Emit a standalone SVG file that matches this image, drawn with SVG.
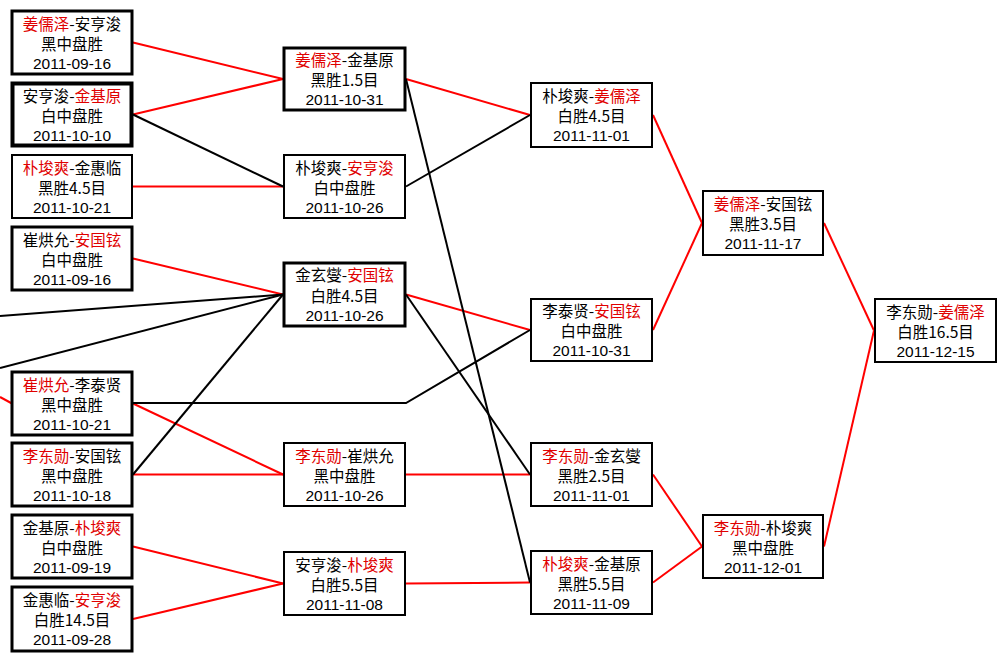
<svg xmlns="http://www.w3.org/2000/svg" width="1007" height="661" viewBox="0 0 1007 661">
<style>
.b{fill:#fff;stroke:#000}
.b2{stroke-width:2}
.b3{stroke-width:3}
.b4{stroke-width:4}
text{font-family:"Noto Sans CJK SC","Noto Sans",sans-serif;font-size:15.5px;fill:#000;text-anchor:middle}
.d{font-family:"Liberation Sans",Arial,sans-serif;font-size:15.5px}
.r{fill:#e00000}
.cr{stroke:#f00;stroke-width:2;fill:none}
.ck{stroke:#000;stroke-width:2;fill:none}
</style>
<rect width="1007" height="661" fill="#fff"/>
<g id="connectors">
<line class="cr" x1="133" y1="42.5" x2="283" y2="79"/>
<line class="cr" x1="133" y1="114.5" x2="283" y2="79"/>
<line class="cr" x1="133" y1="186.5" x2="283" y2="186.5"/>
<line class="cr" x1="133" y1="258.5" x2="283" y2="294.5"/>
<line class="cr" x1="133" y1="403.5" x2="283" y2="474.5"/>
<line class="cr" x1="133" y1="474.5" x2="283" y2="474.5"/>
<line class="cr" x1="133" y1="546.5" x2="283" y2="583.5"/>
<line class="cr" x1="133" y1="619" x2="283" y2="583.5"/>
<line class="cr" x1="0" y1="397" x2="12" y2="403.5"/>
<line class="cr" x1="406" y1="79" x2="530" y2="115"/>
<line class="cr" x1="406" y1="294.5" x2="530" y2="330"/>
<line class="cr" x1="406" y1="474.5" x2="530" y2="474.5"/>
<line class="cr" x1="406" y1="583.5" x2="530" y2="582.5"/>
<line class="cr" x1="653" y1="115" x2="702" y2="223"/>
<line class="cr" x1="653" y1="330" x2="702" y2="223"/>
<line class="cr" x1="653" y1="474.5" x2="702" y2="546.5"/>
<line class="cr" x1="653" y1="582.5" x2="702" y2="546.5"/>
<line class="cr" x1="824" y1="223" x2="874" y2="330.5"/>
<line class="cr" x1="824" y1="546.5" x2="874" y2="330.5"/>
<line class="ck" x1="133" y1="114.5" x2="283" y2="186.5"/>
<line class="ck" x1="406" y1="186.5" x2="530" y2="115"/>
<line class="ck" x1="406" y1="79" x2="530" y2="582.5"/>
<line class="ck" x1="406" y1="294.5" x2="530" y2="474.5"/>
<line class="ck" x1="133" y1="474.5" x2="283" y2="294.5"/>
<line class="ck" x1="0" y1="316" x2="283" y2="294.5"/>
<line class="ck" x1="0" y1="368" x2="283" y2="294.5"/>
<polyline class="ck" points="133,403 406,403 530,330"/>
</g>
<g id="n1"><rect class="b b3" x="12" y="11" width="120" height="63"/>
<text x="72" y="29.5"><tspan class="r">姜儒泽</tspan>-安亨浚<tspan x="72" dy="20">黑中盘胜</tspan><tspan class="d" x="72" dy="19">2011-09-16</tspan></text></g>
<g id="n2"><rect class="b b4" x="12.5" y="83.5" width="119" height="62"/>
<text x="72" y="101.5">安亨浚-<tspan class="r">金基原</tspan><tspan x="72" dy="20">白中盘胜</tspan><tspan class="d" x="72" dy="19">2011-10-10</tspan></text></g>
<g id="n3"><rect class="b b2" x="12" y="155" width="120" height="63"/>
<text x="72" y="173.5"><tspan class="r">朴埈爽</tspan>-金惠临<tspan x="72" dy="20">黑胜4.5目</tspan><tspan class="d" x="72" dy="19">2011-10-21</tspan></text></g>
<g id="n4"><rect class="b b3" x="12" y="227" width="120" height="63"/>
<text x="72" y="245.5">崔烘允-<tspan class="r">安国铉</tspan><tspan x="72" dy="20">白中盘胜</tspan><tspan class="d" x="72" dy="19">2011-09-16</tspan></text></g>
<g id="n5"><rect class="b b3" x="12" y="372" width="120" height="63"/>
<text x="72" y="390.5"><tspan class="r">崔烘允</tspan>-李泰贤<tspan x="72" dy="20">黑中盘胜</tspan><tspan class="d" x="72" dy="19">2011-10-21</tspan></text></g>
<g id="n6"><rect class="b b3" x="12" y="443" width="120" height="63"/>
<text x="72" y="461.5"><tspan class="r">李东勋</tspan>-安国铉<tspan x="72" dy="20">黑中盘胜</tspan><tspan class="d" x="72" dy="19">2011-10-18</tspan></text></g>
<g id="n7"><rect class="b b3" x="12" y="515" width="120" height="63"/>
<text x="72" y="533.5">金基原-<tspan class="r">朴埈爽</tspan><tspan x="72" dy="20">白中盘胜</tspan><tspan class="d" x="72" dy="19">2011-09-19</tspan></text></g>
<g id="n8"><rect class="b b3" x="12" y="587" width="120" height="64"/>
<text x="72" y="605.5">金惠临-<tspan class="r">安亨浚</tspan><tspan x="72" dy="20">白胜14.5目</tspan><tspan class="d" x="72" dy="19">2011-09-28</tspan></text></g>
<g id="nA"><rect class="b b3" x="284" y="48" width="121" height="62"/>
<text x="344.5" y="65.5"><tspan class="r">姜儒泽</tspan>-金基原<tspan x="344.5" dy="20">黑胜1.5目</tspan><tspan class="d" x="344.5" dy="19">2011-10-31</tspan></text></g>
<g id="nB"><rect class="b b2" x="284" y="155" width="121" height="63"/>
<text x="344.5" y="173.5">朴埈爽-<tspan class="r">安亨浚</tspan><tspan x="344.5" dy="20">白中盘胜</tspan><tspan class="d" x="344.5" dy="19">2011-10-26</tspan></text></g>
<g id="nC"><rect class="b b3" x="284" y="263" width="121" height="63"/>
<text x="344.5" y="281">金玄燮-<tspan class="r">安国铉</tspan><tspan x="344.5" dy="20.5">白胜4.5目</tspan><tspan class="d" x="344.5" dy="19">2011-10-26</tspan></text></g>
<g id="nD"><rect class="b b2" x="284" y="443" width="121" height="63"/>
<text x="344.5" y="461.5"><tspan class="r">李东勋</tspan>-崔烘允<tspan x="344.5" dy="20">黑中盘胜</tspan><tspan class="d" x="344.5" dy="19">2011-10-26</tspan></text></g>
<g id="nE"><rect class="b b2" x="284" y="552" width="121" height="63"/>
<text x="344.5" y="570.5">安亨浚-<tspan class="r">朴埈爽</tspan><tspan x="344.5" dy="20">白胜5.5目</tspan><tspan class="d" x="344.5" dy="19">2011-11-08</tspan></text></g>
<g id="nF"><rect class="b b2" x="531" y="83" width="121" height="64"/>
<text x="591.5" y="101.5">朴埈爽-<tspan class="r">姜儒泽</tspan><tspan x="591.5" dy="20">白胜4.5目</tspan><tspan class="d" x="591.5" dy="19">2011-11-01</tspan></text></g>
<g id="nG"><rect class="b b2" x="531" y="299" width="121" height="62"/>
<text x="591.5" y="316.5">李泰贤-<tspan class="r">安国铉</tspan><tspan x="591.5" dy="20">白中盘胜</tspan><tspan class="d" x="591.5" dy="19">2011-10-31</tspan></text></g>
<g id="nH"><rect class="b b2" x="531" y="443" width="121" height="63"/>
<text x="591.5" y="461.5"><tspan class="r">李东勋</tspan>-金玄燮<tspan x="591.5" dy="20">黑胜2.5目</tspan><tspan class="d" x="591.5" dy="19">2011-11-01</tspan></text></g>
<g id="nI"><rect class="b b2" x="531" y="551" width="121" height="63"/>
<text x="591.5" y="569.5"><tspan class="r">朴埈爽</tspan>-金基原<tspan x="591.5" dy="20">黑胜5.5目</tspan><tspan class="d" x="591.5" dy="19">2011-11-09</tspan></text></g>
<g id="nJ"><rect class="b b2" x="703" y="191" width="120" height="64"/>
<text x="763" y="209.5"><tspan class="r">姜儒泽</tspan>-安国铉<tspan x="763" dy="20">黑胜3.5目</tspan><tspan class="d" x="763" dy="19">2011-11-17</tspan></text></g>
<g id="nK"><rect class="b b2" x="703" y="515" width="120" height="63"/>
<text x="763" y="533.5"><tspan class="r">李东勋</tspan>-朴埈爽<tspan x="763" dy="20">黑中盘胜</tspan><tspan class="d" x="763" dy="19">2011-12-01</tspan></text></g>
<g id="nL"><rect class="b b2" x="875" y="299" width="121" height="63"/>
<text x="935.5" y="317.5">李东勋-<tspan class="r">姜儒泽</tspan><tspan x="935.5" dy="20">白胜16.5目</tspan><tspan class="d" x="935.5" dy="19">2011-12-15</tspan></text></g>
</svg>
